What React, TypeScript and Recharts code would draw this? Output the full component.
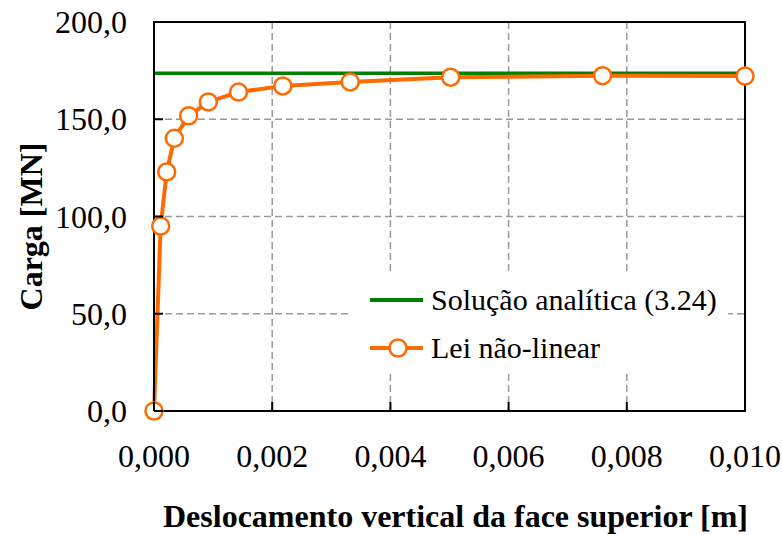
import {
  ComposedChart,
  Line,
  XAxis,
  YAxis,
  CartesianGrid,
  Legend,
  ReferenceArea,
} from 'recharts';

const xTicks = [0, 0.002, 0.004, 0.006, 0.008, 0.01];
const yTicks = [0, 50, 100, 150, 200];

const analyticX = [0, 0.01];
const analyticY = [173.6, 173.6];

const nonlinearX = [
  0, 0.000113, 0.000215, 0.000344, 0.000587, 0.000919, 0.00143, 0.00218, 0.00332,
  0.00502, 0.00759, 0.01,
];
const nonlinearY = [
  0, 95.1, 122.9, 140.2, 151.8, 158.9, 164.0, 167.1, 169.2, 171.6, 172.4, 172.2,
];

const analyticData = analyticX.map((x, i) => ({ x, y: analyticY[i] }));
const nonlinearData = nonlinearX.map((x, i) => ({ x, y: nonlinearY[i] }));

const FONT = '"Liberation Serif", "Times New Roman", serif';
const GREEN = '#008000';
const ORANGE = '#ff6a00';

const fmtX = (v: number) => v.toFixed(3).replace('.', ',');
const fmtY = (v: number) => v.toFixed(1).replace('.', ',');

function XTick({ x, y, payload }: any) {
  return (
    <g>
      <line x1={x} x2={x} y1={y} y2={y - 9} stroke="#000" strokeWidth={2} />
      <text x={x} y={y + 56} textAnchor="middle" fontFamily={FONT} fontSize={32} fill="#000">
        {fmtX(payload.value)}
      </text>
    </g>
  );
}

function YTick({ x, y, payload }: any) {
  return (
    <g>
      <line x1={x + 27} x2={x + 36} y1={y} y2={y} stroke="#000" strokeWidth={2} />
      <text x={x} y={y + 11} textAnchor="end" fontFamily={FONT} fontSize={32} fill="#000">
        {fmtY(payload.value)}
      </text>
    </g>
  );
}

function LegendBox() {
  return (
    <div style={{ fontFamily: FONT, fontSize: 30, color: '#000', lineHeight: '48px', paddingTop: 3 }}>
      <div style={{ display: 'flex', alignItems: 'center' }}>
        <svg width={81} height={48}>
          <line x1={20} x2={73} y1={24} y2={24} stroke={GREEN} strokeWidth={4} />
        </svg>
        <span>Solução analítica (3.24)</span>
      </div>
      <div style={{ display: 'flex', alignItems: 'center' }}>
        <svg width={81} height={48}>
          <line x1={20} x2={73} y1={24} y2={24} stroke={ORANGE} strokeWidth={4} />
          <circle cx={48} cy={24} r={8.5} fill="#fff" stroke={ORANGE} strokeWidth={2.5} />
        </svg>
        <span>Lei não-linear</span>
      </div>
    </div>
  );
}

export default function App() {
  return (
    <div style={{ position: 'absolute', left: 0, top: 0, width: 782, height: 535, background: '#fff' }}>
      <ComposedChart width={782} height={535} margin={{ top: 22, right: 37, bottom: 0, left: 0 }}>
        <CartesianGrid
          stroke="#9a9a9a"
          strokeWidth={1.5}
          strokeDasharray="7 4"
          horizontalValues={yTicks}
          verticalValues={xTicks}
        />
        <XAxis
          type="number"
          dataKey="x"
          domain={[0, 0.01]}
          ticks={xTicks}
          height={124}
          tickSize={0}
          tickMargin={0}
          tick={<XTick />}
          axisLine={{ stroke: '#000', strokeWidth: 2 }}
          allowDuplicatedCategory={false}
          label={({ viewBox }: any) => (
            <text
              x={viewBox.x + viewBox.width / 2 + 6}
              y={viewBox.y + 116}
              textAnchor="middle"
              fontFamily={FONT}
              fontSize={32}
              fontWeight="bold"
              fill="#000"
            >
              Deslocamento vertical da face superior [m]
            </text>
          )}
        />
        <YAxis
          type="number"
          dataKey="y"
          domain={[0, 200]}
          ticks={yTicks}
          width={154}
          tickSize={0}
          tickMargin={27}
          tick={<YTick />}
          axisLine={{ stroke: '#000', strokeWidth: 2 }}
          label={({ viewBox }: any) => {
            const cx = 31;
            const cy = viewBox.y + viewBox.height / 2 + 10;
            return (
              <text
                x={cx}
                y={cy}
                transform={`rotate(-90 ${cx} ${cy})`}
                textAnchor="middle"
                dominantBaseline="central"
                fontFamily={FONT}
                fontSize={32}
                fontWeight="bold"
                fill="#000"
              >
                Carga [MN]
              </text>
            );
          }}
        />
        <ReferenceArea x1={0} x2={0.01} y1={0} y2={200} fill="none" stroke="#000" strokeWidth={2} />
        <Line
          data={analyticData}
          dataKey="y"
          name="Solução analítica (3.24)"
          stroke={GREEN}
          strokeWidth={3.5}
          dot={false}
          isAnimationActive={false}
        />
        <Line
          data={nonlinearData}
          dataKey="y"
          name="Lei não-linear"
          stroke={ORANGE}
          strokeWidth={4}
          dot={{ r: 8.5, fill: '#fff', stroke: ORANGE, strokeWidth: 2.5 }}
          isAnimationActive={false}
        />
        <Legend
          layout="vertical"
          align="center"
          verticalAlign="middle"
          content={<LegendBox />}
          wrapperStyle={{ left: 350, top: 273, width: 378, height: 100, background: '#fff' }}
        />
      </ComposedChart>
    </div>
  );
}
